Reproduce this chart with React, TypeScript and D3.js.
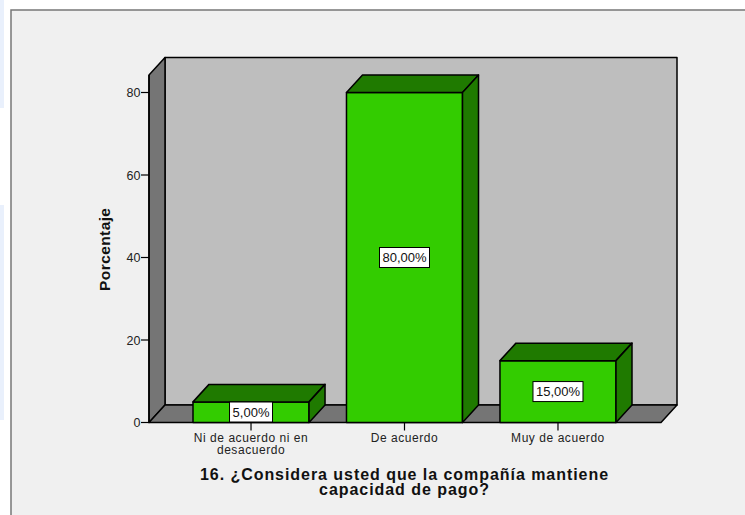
import React from "react";
import * as d3 from "d3";

const categories = ["Ni de acuerdo ni en|desacuerdo", "De acuerdo", "Muy de acuerdo"];
const percentages = [5, 80, 15];
const valueLabels = ["5,00%", "80,00%", "15,00%"];
const yTicks = [0, 20, 40, 60, 80];
const titleLines = ["16. ¿Considera usted que la compañía mantiene", "capacidad de pago?"];

const FONT = "'Liberation Sans', Arial, sans-serif";
const DX = 16;
const DY = -17.5;

export default function App() {
  const y = d3.scaleLinear().domain([0, 80]).range([422.5, 92.5]);
  const x = d3.scaleBand<number>().domain([0, 1, 2]).range([193, 616]).paddingInner(0.244).paddingOuter(0);
  const left = 149;
  const right = 661;
  const floor = y(0);
  const top = y(84.25);
  const poly = (pts: [number, number][]) => pts.map((p) => p.join(",")).join(" ");
  const stroke = { stroke: "#000", strokeWidth: 1.5, strokeLinejoin: "round" as const };

  return (
    <svg
      width={745}
      height={515}
      style={{ position: "fixed", left: 0, top: 0, background: "#fff", display: "block" }}
      fontFamily={FONT}
    >
      {/* Pale strips of the window behind the chart panel */}
      <rect x={0} y={0} width={4} height={108} fill="#e9f0fc" />
      <rect x={0} y={205} width={4} height={215} fill="#e9f0fc" />
      <rect x={11} y={10} width={760} height={540} fill="#f0f0f0" stroke="#777" strokeWidth={1.5} />

      {/* Back wall, side wall and floor of the 3D plot box */}
      <rect x={left + DX} y={top + DY} width={right - left} height={floor - top} fill="#bebebe" {...stroke} />
      <polygon
        points={poly([[left, top], [left + DX, top + DY], [left + DX, floor + DY], [left, floor]])}
        fill="#757575"
        {...stroke}
      />
      <polygon
        points={poly([[left, floor], [right, floor], [right + DX, floor + DY], [left + DX, floor + DY]])}
        fill="#757575"
        {...stroke}
      />

      {/* Value axis */}
      {yTicks.map((t) => (
        <g key={t}>
          <line x1={left - 8} x2={left} y1={y(t)} y2={y(t)} stroke="#000" strokeWidth={1.2} />
          <text x={left - 8.5} y={y(t) + 4.5} textAnchor="end" fontSize={12.5} fill="#222">
            {t}
          </text>
        </g>
      ))}
      <line x1={left} x2={left} y1={top} y2={floor} {...stroke} />
      <text
        transform={`translate(110,${y(42)}) rotate(-90)`}
        textAnchor="middle"
        fontSize={15.5}
        fontWeight="bold"
        letterSpacing={0.4}
        fill="#111"
      >
        Porcentaje
      </text>

      {/* Extruded bars */}
      {percentages.map((v, i) => {
        const x0 = x(i)!;
        const w = x.bandwidth();
        const x1 = x0 + w;
        const yv = y(v);
        return (
          <g key={i}>
            <line x1={x0 + w / 2} x2={x0 + w / 2} y1={floor} y2={floor + 8} stroke="#000" strokeWidth={1.2} />
            <rect x={x0} y={yv} width={w} height={floor - yv} fill="#33cc00" {...stroke} />
            <polygon
              points={poly([[x0, yv], [x0 + DX, yv + DY], [x1 + DX, yv + DY], [x1, yv]])}
              fill="#1f7a00"
              {...stroke}
            />
            <polygon
              points={poly([[x1, yv], [x1 + DX, yv + DY], [x1 + DX, floor + DY], [x1, floor]])}
              fill="#1f7a00"
              {...stroke}
            />
          </g>
        );
      })}

      {/* Value labels centred on each bar face */}
      {percentages.map((v, i) => {
        const cx = x(i)! + x.bandwidth() / 2;
        const cy = (y(v) + floor) / 2;
        const w = i === 0 ? 43 : 50;
        const cyBox = i === 0 ? 412 : cy;
        return (
          <g key={i}>
            <rect x={cx - w / 2} y={cyBox - 10} width={w} height={20} fill="#fff" stroke="#000" strokeWidth={1} />
            <text x={cx} y={cyBox + 4.5} textAnchor="middle" fontSize={13} fill="#111">
              {valueLabels[i]}
            </text>
          </g>
        );
      })}

      {/* Category labels */}
      {categories.map((c, i) => {
        const cx = x(i)! + x.bandwidth() / 2;
        return c.split("|").map((line, j) => (
          <text
            key={j}
            x={cx}
            y={441.5 + j * 12}
            textAnchor="middle"
            fontSize={12}
            letterSpacing={0.55}
            fill="#222"
          >
            {line}
          </text>
        ));
      })}

      {/* Axis title */}
      {titleLines.map((line, j) => (
        <text
          key={j}
          x={404.5}
          y={479.5 + j * 15}
          textAnchor="middle"
          fontSize={16}
          fontWeight="bold"
          letterSpacing={0.95}
          fill="#111"
        >
          {line}
        </text>
      ))}
    </svg>
  );
}
